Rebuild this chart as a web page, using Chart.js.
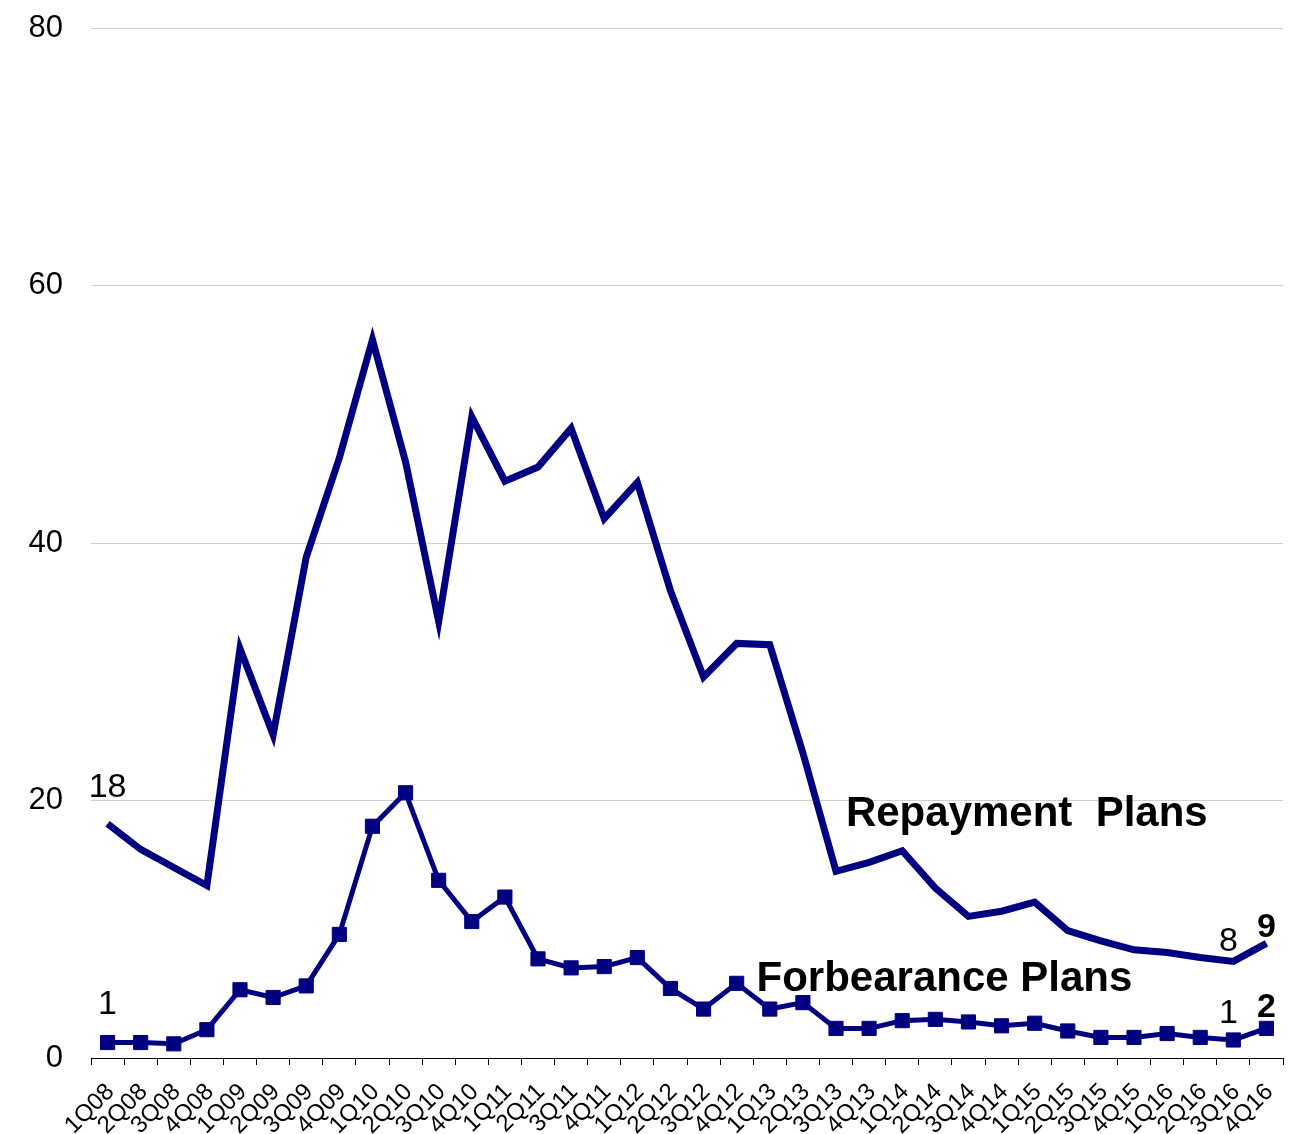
<!DOCTYPE html>
<html>
<head>
<meta charset="utf-8">
<script src="https://cdn.jsdelivr.net/npm/chart.js@4/dist/chart.umd.min.js"></script>
<style>
  html, body { margin: 0; padding: 0; background: #fff; }
  #wrap { width: 1296px; height: 1134px; }
</style>
</head>
<body>
<div id="wrap"><canvas id="plansChart"></canvas></div>
<script>
const quarters = [
  "1Q08","2Q08","3Q08","4Q08","1Q09","2Q09","3Q09","4Q09",
  "1Q10","2Q10","3Q10","4Q10","1Q11","2Q11","3Q11","4Q11",
  "1Q12","2Q12","3Q12","4Q12","1Q13","2Q13","3Q13","4Q13",
  "1Q14","2Q14","3Q14","4Q14","1Q15","2Q15","3Q15","4Q15",
  "1Q16","2Q16","3Q16","4Q16"
];
const repayment = [
  18.2, 16.2, 14.8, 13.4, 31.8, 25.1, 38.9, 46.6,
  55.8, 46.3, 33.9, 49.8, 44.8, 45.9, 48.9, 41.9,
  44.7, 36.3, 29.6, 32.2, 32.1, 23.7, 14.5, 15.2,
  16.1, 13.2, 11.0, 11.4, 12.1, 9.9, 9.1, 8.4,
  8.2, 7.8, 7.5, 8.9
];
const forbearance = [
  1.2, 1.2, 1.1, 2.2, 5.3, 4.7, 5.6, 9.6,
  18.0, 20.6, 13.8, 10.6, 12.5, 7.7, 7.0, 7.1,
  7.8, 5.4, 3.8, 5.8, 3.8, 4.3, 2.3, 2.3,
  2.9, 3.0, 2.8, 2.5, 2.7, 2.1, 1.6, 1.6,
  1.9, 1.6, 1.4, 2.3
];
const yTicks = [0, 20, 40, 60, 80];

// value labels: [category index, value at text baseline, text, bold]
const pointLabels = [
  [0, 20.3, "18", false],
  [0, 3.4, "1", false],
  [33.85, 8.3, "8", false],
  [35, 9.4, "9", true],
  [33.85, 2.7, "1", false],
  [35, 3.2, "2", true]
];
// series names: [text, category index of left edge, value at text middle]
const seriesNames = [
  ["Repayment  Plans", 22.3, 18.9],
  ["Forbearance Plans", 19.6, 6.1]
];

const NAVY = "#000080";
const FONT = "'Liberation Sans', Arial, sans-serif";

const textPlugin = {
  id: "planText",
  afterDatasetsDraw(chart) {
    const ctx = chart.ctx;
    const x = chart.scales.x, y = chart.scales.y;
    const x0 = x.getPixelForValue(0), step = x.getPixelForValue(1) - x0;
    ctx.save();
    ctx.fillStyle = "#000";
    ctx.textAlign = "center";
    ctx.textBaseline = "alphabetic";
    pointLabels.forEach(([i, v, t, b]) => {
      ctx.font = (b ? "bold " : "") + "34px " + FONT;
      ctx.fillText(t, x0 + step * i, y.getPixelForValue(v));
    });
    ctx.textAlign = "left";
    ctx.textBaseline = "middle";
    ctx.font = "bold 42px " + FONT;
    seriesNames.forEach(([t, idx, v]) => {
      ctx.fillText(t, x0 + step * idx, y.getPixelForValue(v));
    });
    ctx.restore();
  }
};

new Chart(document.getElementById("plansChart"), {
  type: "line",
  data: {
    labels: quarters,
    datasets: [
      {
        label: "Repayment Plans",
        data: repayment,
        borderColor: NAVY,
        backgroundColor: NAVY,
        borderWidth: 7,
        pointRadius: 0,
        tension: 0,
        borderJoinStyle: "miter"
      },
      {
        label: "Forbearance Plans",
        data: forbearance,
        borderColor: NAVY,
        backgroundColor: NAVY,
        borderWidth: 5,
        pointStyle: "rect",
        pointRadius: 10,
        pointBorderWidth: 1,
        tension: 0
      }
    ]
  },
  options: {
    responsive: true,
    maintainAspectRatio: false,
    animation: false,
    layout: { padding: { top: 28, right: 13, left: 0, bottom: 0 } },
    plugins: {
      legend: { display: false },
      tooltip: { enabled: false }
    },
    scales: {
      x: {
        offset: true,
        grid: {
          display: true,
          offset: true,
          drawOnChartArea: false,
          drawTicks: true,
          tickLength: 7,
          color: "#000",
          lineWidth: 1
        },
        border: { display: true, color: "#000", width: 1 },
        ticks: {
          autoSkip: false,
          minRotation: 45,
          maxRotation: 45,
          padding: 13,
          labelOffset: 3,
          color: "#000",
          font: { family: FONT, size: 24 }
        },
        afterFit(scale) {
          scale.height = 76;
          scale.paddingLeft = 0;
          scale.paddingRight = 0;
        }
      },
      y: {
        min: 0,
        max: 80,
        afterBuildTicks(scale) { scale.ticks = yTicks.map(v => ({ value: v })); },
        grid: { color: "#d0d0d0", lineWidth: 1, drawTicks: false },
        border: { display: false },
        ticks: {
          padding: 28,
          color: "#000",
          font: { family: FONT, size: 31 }
        },
        afterFit(scale) {
          scale.width = 91;
          scale.paddingTop = 0;
          scale.paddingBottom = 0;
        }
      }
    }
  },
  plugins: [textPlugin]
});
</script>
</body>
</html>
